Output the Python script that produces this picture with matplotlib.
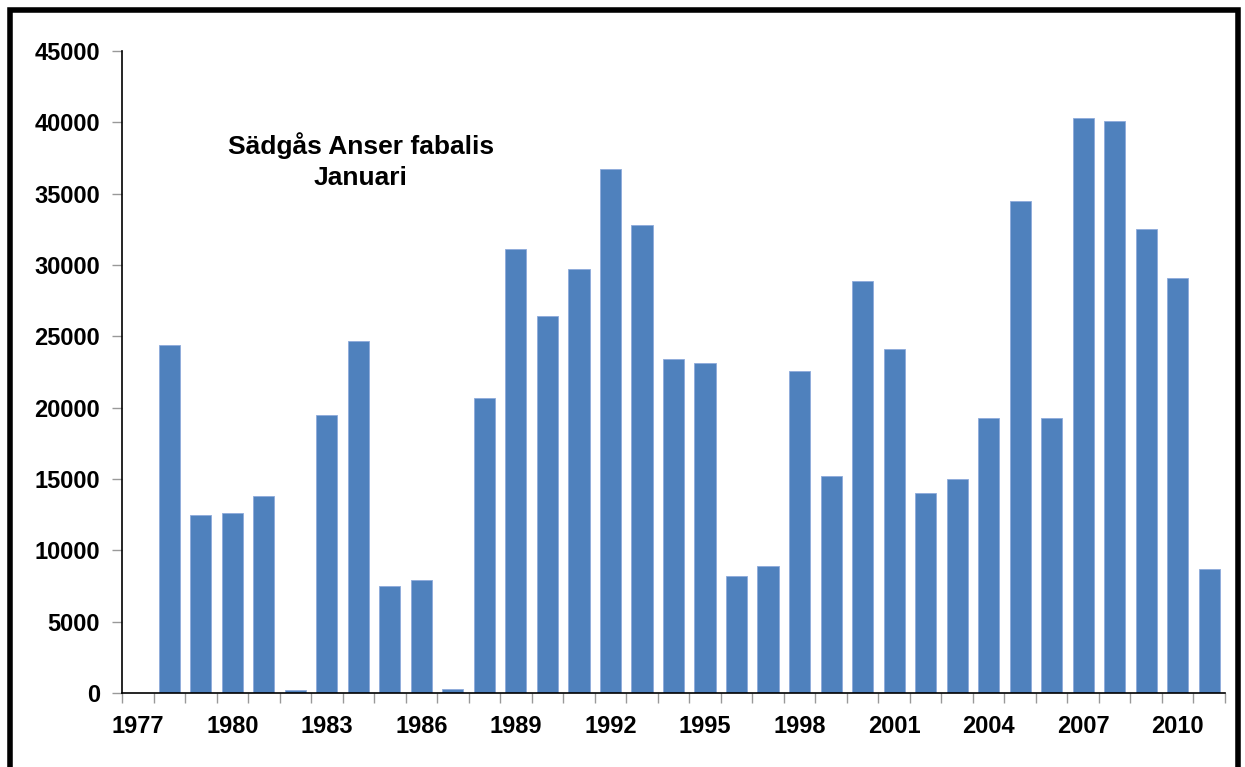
import matplotlib
matplotlib.use("Agg")
import matplotlib.pyplot as plt
import numpy as np
from matplotlib.patches import Rectangle

years = list(range(1977, 2012))
values = [0, 24400, 12500, 12600, 13800, 200, 19500, 24700, 7500, 7900,
          300, 20700, 31100, 26400, 29700, 36700, 32800, 23400, 23100, 8200,
          8900, 22600, 15200, 28900, 24100, 14000, 15000, 19300, 34500, 19300,
          40300, 40100, 32500, 29100, 8700]
yticks = list(range(0, 45001, 5000))
title_lines = ["Sädgås Anser fabalis", "Januari"]

plt.rcParams['font.family'] = ['Liberation Sans', 'DejaVu Sans']
plt.rcParams['font.weight'] = 'bold'

fig = plt.figure(figsize=(12.45, 7.67), dpi=100)
ax = fig.add_axes([122/1245, 1-693/767, (1225-122)/1245, (693-51)/767])

x = np.arange(len(years))
ax.bar(x, values, width=0.67, color='#4F81BD', edgecolor='#8EAADB', linewidth=0.6)

ax.set_xlim(-0.5, len(years) - 0.5)
ax.set_ylim(0, 45000)
ax.set_yticks(yticks)
ax.set_yticklabels([str(v) for v in yticks])

ax.set_xticks(x[::3])
ax.set_xticklabels([str(y) for y in years[::3]])
ax.set_xticks(np.arange(-0.5, len(years)), minor=True)
ax.tick_params(axis='x', which='major', length=0, pad=16, labelsize=17)
ax.tick_params(axis='x', which='minor', length=7, color='#999999', width=1)
ax.tick_params(axis='y', length=7, color='#999999', width=1, pad=9, labelsize=17)
for lab in ax.get_xticklabels() + ax.get_yticklabels():
    lab.set_fontweight('bold')

for s in ['top', 'right']:
    ax.spines[s].set_visible(False)
ax.spines['left'].set_color('black')
ax.spines['bottom'].set_color('black')
ax.spines['left'].set_linewidth(1.2)
ax.spines['bottom'].set_linewidth(1.2)

fig.text(361/1245, 1-161/767, "\n".join(title_lines), ha='center', va='center',
         fontsize=19, fontweight='bold', linespacing=1.35)

fig.patches.append(Rectangle((10/1245, -0.05), (1238-10)/1245, 1.05 - 10/767,
                             transform=fig.transFigure, fill=False,
                             edgecolor='black', linewidth=4))

fig.savefig("out.png", dpi=100)
